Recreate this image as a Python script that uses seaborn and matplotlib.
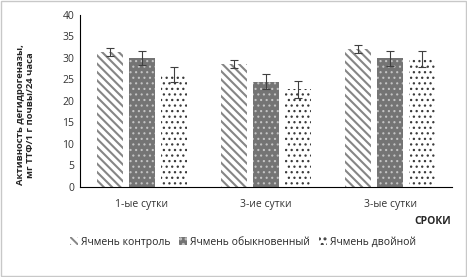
import matplotlib
matplotlib.use("Agg")
import matplotlib.pyplot as plt
import numpy as np
import pandas as pd
import seaborn as sns

periods = ['1-ые сутки', '3-ие сутки', '3-ые сутки']
series = ['Ячмень контроль', 'Ячмень обыкновенный', 'Ячмень двойной']
control = [31.4, 28.6, 32.1]
common = [30.0, 24.5, 29.9]
double = [26.2, 22.7, 29.8]
err_control = [1.0, 1.0, 1.0]
err_common = [1.7, 1.8, 1.8]
err_double = [1.7, 2.0, 1.8]

df = pd.DataFrame({
    'period': periods * 3,
    'series': np.repeat(series, 3),
    'value': control + common + double,
    'err': err_control + err_common + err_double,
})

sns.set_style('white')
plt.rcParams['font.family'] = ['Open Sans', 'DejaVu Sans']
plt.rcParams['hatch.linewidth'] = 1.4

fig = plt.figure(figsize=(4.67, 2.77), dpi=100)
ax = fig.add_axes([0.171, 0.325, 0.797, 0.621])

sns.barplot(data=df, x='period', y='value', hue='series', order=periods,
            hue_order=series, width=0.77, gap=0.18, errorbar=None,
            legend=False, ax=ax)

styles = {
    'Ячмень контроль': dict(facecolor='white', edgecolor='#868686', hatch='\\\\\\\\', hlw=1.5),
    'Ячмень обыкновенный': dict(facecolor='#747474', edgecolor='#c4c4c4', hatch='...', hlw=0.8),
    'Ячмень двойной': dict(facecolor='white', edgecolor='#3a3a3a', hatch='...', hlw=0.9),
}


def style_patch(patch, st):
    patch.set_facecolor(st['facecolor'])
    patch.set_edgecolor(st['edgecolor'])
    patch.set_hatch(st['hatch'])
    patch.set_linewidth(0)
    if hasattr(patch, 'set_hatch_linewidth'):
        patch.set_hatch_linewidth(st['hlw'])


for container, name in zip(ax.containers, series):
    st = styles[name]
    sub = df[df['series'] == name].set_index('period').loc[periods]
    for patch in container:
        style_patch(patch, st)
    xs = [p.get_x() + p.get_width() / 2 for p in container]
    ax.errorbar(xs, sub['value'], yerr=sub['err'], fmt='none', ecolor='#404040',
                elinewidth=0.8, capsize=3, capthick=0.8)

ax.set_ylim(0, 40)
ax.set_yticks(np.arange(0, 41, 5))
ax.set_xlim(-0.5, 2.5)
ax.set_xlabel('')
ax.set_ylabel('Активность дегидрогеназы,\nмг ТТФ/1 г почвы/24 часа',
              fontsize=6.8, fontweight='bold')
ax.yaxis.set_label_coords(-0.12, 0.42)
ax.tick_params(axis='both', labelsize=7.5, colors='#333333', length=0, pad=4)
ax.tick_params(axis='x', pad=9)
for side in ['top', 'right']:
    ax.spines[side].set_visible(False)
ax.spines['left'].set_color('black')
ax.spines['bottom'].set_color('black')
ax.spines['left'].set_linewidth(0.8)
ax.spines['bottom'].set_linewidth(0.8)

fig.text(0.965, 0.2, 'СРОКИ', fontsize=7.5, fontweight='bold', ha='right', va='center')

handles = []
for s in series:
    h = matplotlib.patches.Patch(label=s)
    style_patch(h, styles[s])
    handles.append(h)
fig.legend(handles=handles, loc='center', bbox_to_anchor=(0.52, 0.125), ncol=3,
           frameon=False, fontsize=7.5, handlelength=0.8, handleheight=0.8,
           handletextpad=0.3, columnspacing=0.8)

fig.patches.append(matplotlib.patches.Rectangle(
    (0.003, 0.003), 0.994, 0.994, transform=fig.transFigure, fill=False,
    edgecolor='#c8c8c8', linewidth=1))

fig.savefig('out.png', dpi=100)
